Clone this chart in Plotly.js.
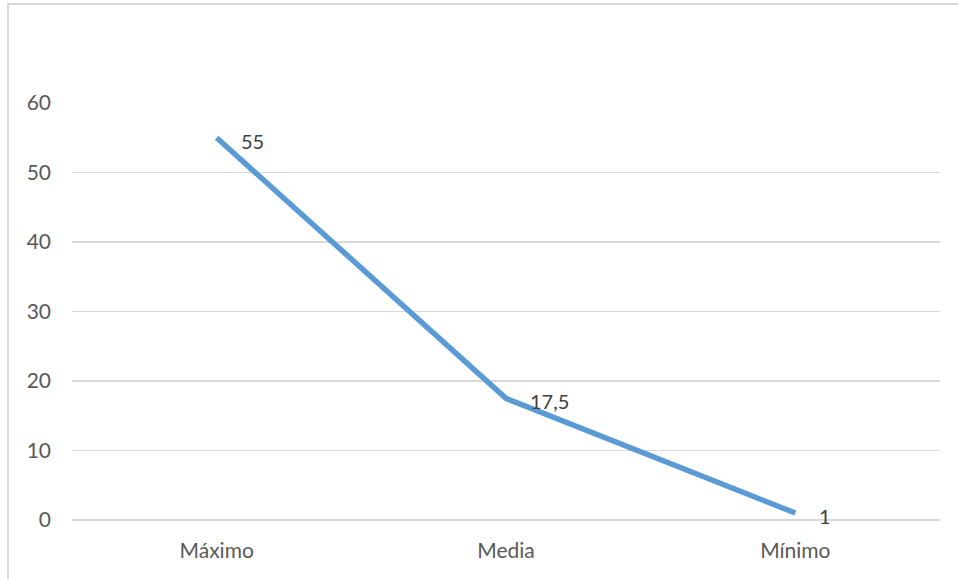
<!DOCTYPE html>
<html>
<head>
<meta charset="utf-8">
<script src="https://cdn.plot.ly/plotly-3.0.1.min.js"></script>
<style>html,body{margin:0;padding:0;background:#fff;}#chart{width:958px;height:579px;}</style>
</head>
<body>
<div id="chart"></div>
<script>
var categories = ["Máximo", "Media", "Mínimo"];
var values = [55, 17.5, 1];
var labels = ["55", "17,5", "1"];
var yTicks = [0, 10, 20, 30, 40, 50, 60];

var FONT = "Lato, 'Open Sans', sans-serif";

var trace = {
  x: categories,
  y: values,
  type: "scatter",
  mode: "lines",
  line: {color: "#5B9BD5", width: 5.5},
  hoverinfo: "none",
  cliponaxis: false
};

var annotations = categories.map(function (c, i) {
  return {
    x: c, y: values[i], xref: "x", yref: "y",
    text: labels[i], showarrow: false,
    xanchor: "left", yanchor: "middle",
    xshift: 22, yshift: -3,
    font: {family: FONT, size: 20, color: "#404040"}
  };
});

var layout = {
  width: 958, height: 579,
  margin: {l: 72, r: 18, t: 103, b: 59},
  paper_bgcolor: "#ffffff",
  plot_bgcolor: "#ffffff",
  showlegend: false,
  separators: ",.",
  font: {family: FONT, size: 21, color: "#595959"},
  xaxis: {
    type: "category",
    range: [-0.5, 2.5],
    showgrid: false,
    zeroline: false,
    showline: false,
    ticks: "",
    ticklabelstandoff: 16,
    tickfont: {size: 21, color: "#595959"},
    fixedrange: true
  },
  yaxis: {
    range: [0, 60],
    tickvals: yTicks,
    showgrid: true,
    gridcolor: "#d9d9d9",
    gridwidth: 1.5,
    zeroline: true,
    zerolinecolor: "#d9d9d9",
    zerolinewidth: 1.5,
    showline: false,
    ticks: "",
    ticklabelstandoff: 20,
    tickfont: {size: 21, color: "#595959"},
    fixedrange: true
  },
  annotations: annotations,
  shapes: [{
    type: "rect", xref: "paper", yref: "paper",
    x0: -0.0737, x1: 1.2, y0: -0.3, y1: 1.2374,
    line: {color: "#d9d9d9", width: 2},
    fillcolor: "rgba(0,0,0,0)",
    layer: "below"
  }]
};

Plotly.newPlot("chart", [trace], layout, {displayModeBar: false, staticPlot: true});
</script>
</body>
</html>
